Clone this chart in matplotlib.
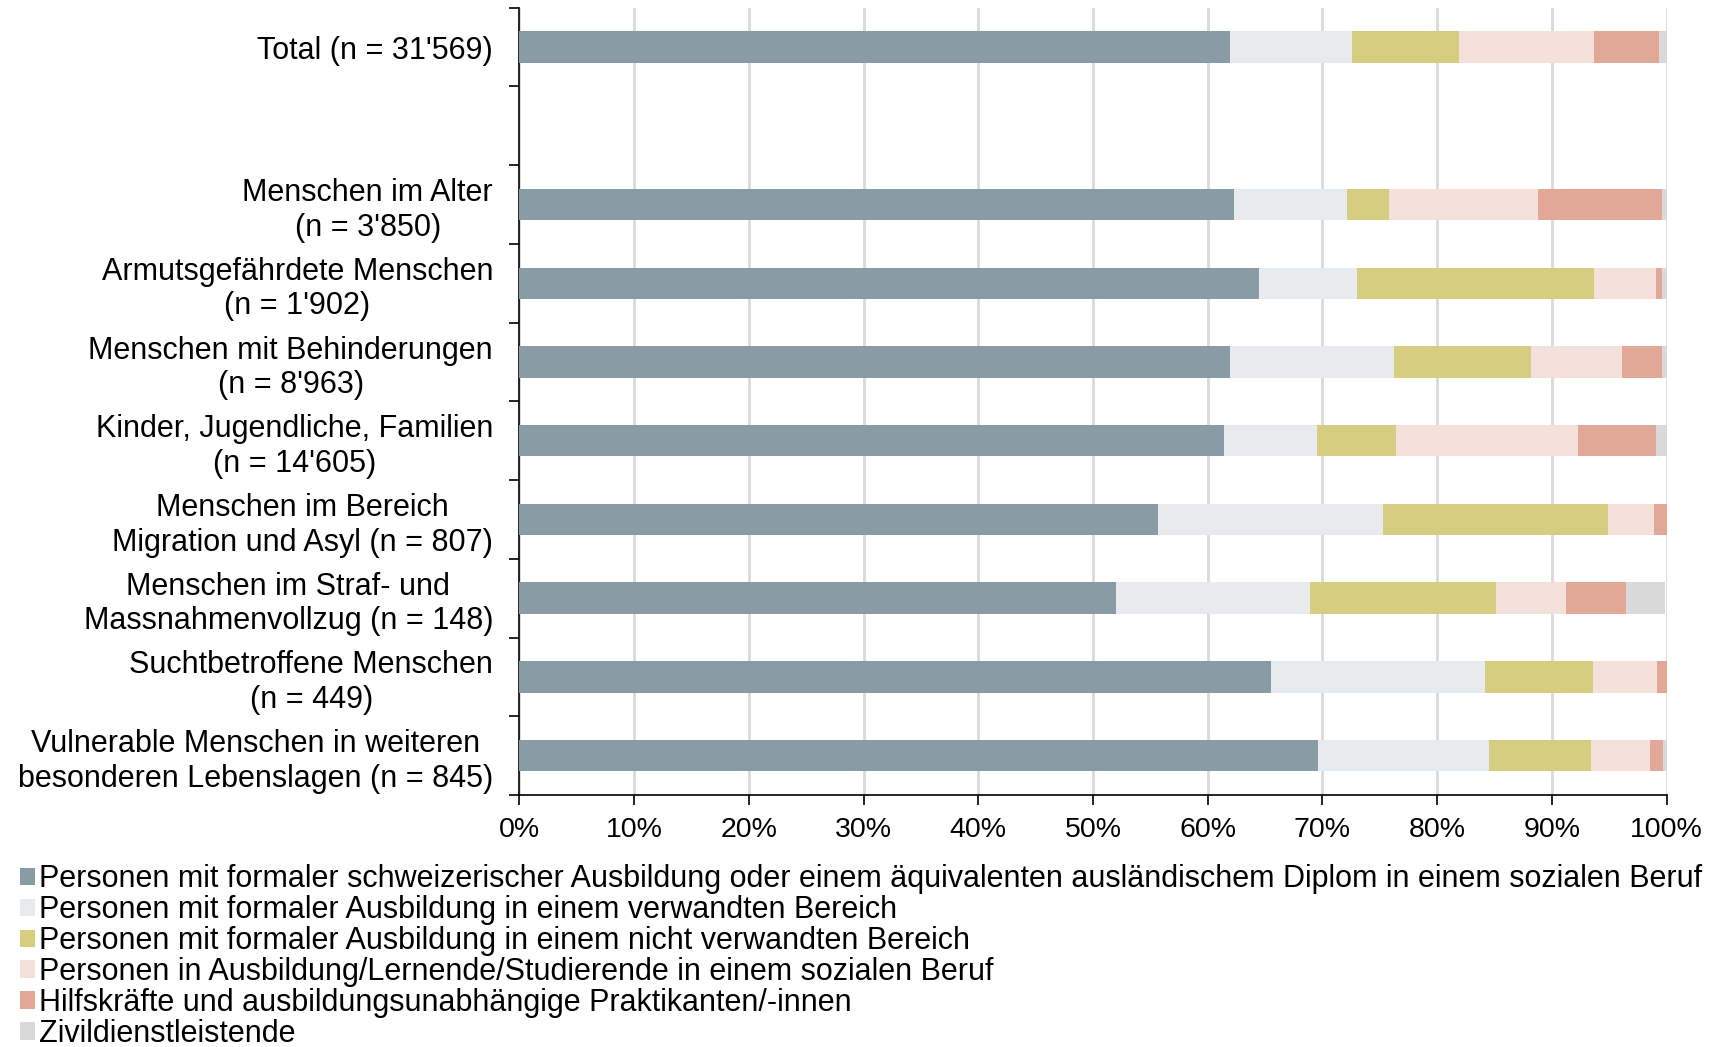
import numpy as np
import matplotlib.pyplot as plt
from matplotlib.patches import Patch

plt.rcParams['font.family'] = ['Liberation Sans', 'DejaVu Sans']

categories = [
    "Total (n = 31'569)",
    "Menschen im Alter\n(n = 3'850)",
    "Armutsgefährdete Menschen\n(n = 1'902)",
    "Menschen mit Behinderungen\n(n = 8'963)",
    "Kinder, Jugendliche, Familien\n(n = 14'605)",
    "Menschen im Bereich\nMigration und Asyl (n = 807)",
    "Menschen im Straf- und\nMassnahmenvollzug (n = 148)",
    "Suchtbetroffene Menschen\n(n = 449)",
    "Vulnerable Menschen in weiteren\nbesonderen Lebenslagen (n = 845)",
]

# Anteile in Prozent, je Kategorie
formal_sozial = [61.9, 62.3, 64.5, 61.9, 61.4, 55.7, 52.0, 65.5, 69.6]
verwandt = [10.7, 9.8, 8.5, 14.3, 8.1, 19.6, 16.9, 18.7, 14.9]
nicht_verwandt = [9.3, 3.7, 20.7, 12.0, 6.9, 19.6, 16.2, 9.4, 8.9]
in_ausbildung = [11.8, 13.0, 5.4, 7.9, 15.9, 4.0, 6.1, 5.6, 5.2]
hilfskraefte = [5.6, 10.8, 0.5, 3.5, 6.8, 1.2, 5.3, 0.8, 1.1]
zivildienst = [0.7, 0.4, 0.4, 0.4, 0.9, 0.0, 3.4, 0.0, 0.3]

series_labels = [
    "Personen mit formaler schweizerischer Ausbildung oder einem äquivalenten ausländischem Diplom in einem sozialen Beruf",
    "Personen mit formaler Ausbildung in einem verwandten Bereich",
    "Personen mit formaler Ausbildung in einem nicht verwandten Bereich",
    "Personen in Ausbildung/Lernende/Studierende in einem sozialen Beruf",
    "Hilfskräfte und ausbildungsunabhängige Praktikanten/-innen",
    "Zivildienstleistende",
]
colors = ['#899ca6', '#e7ebee', '#d6cd80', '#f5e1dc', '#e2a897', '#dadada']

series = [formal_sozial, verwandt, nicht_verwandt, in_ausbildung,
          hilfskraefte, zivildienst]

# Total oben, danach eine leere Zeile
ypos = np.array([0] + list(range(2, 10)))

fig = plt.figure(figsize=(17.27, 10.47), dpi=100)
ax = fig.add_axes([0.3008, 0.2407, 0.9650 - 0.3008, 0.9926 - 0.2407])

left = np.zeros(len(categories))
for vals, col in zip(series, colors):
    vals = np.array(vals)
    ax.barh(ypos, vals, left=left, height=0.4, color=col, zorder=3)
    left += vals

ax.set_xlim(0, 100)
ax.set_ylim(9.5, -0.5)
ax.set_xticks(np.arange(0, 101, 10))
ax.set_xticklabels([f'{v}%' for v in range(0, 101, 10)])
ax.grid(axis='x', color='#d9d9d9', linewidth=2, zorder=0)

ax.set_yticks(ypos)
ax.set_yticklabels(categories)
for lbl in ax.get_yticklabels():
    lbl.set_multialignment('center')
ax.set_yticks(np.arange(-0.5, 10, 1), minor=True)
ax.tick_params(axis='y', which='major', length=0, pad=19, labelsize=22)
ax.tick_params(axis='y', which='minor', length=7, width=1.2, direction='out')
ax.tick_params(axis='x', length=7, width=1.2, pad=9, labelsize=20.5)

for s in ['top', 'right']:
    ax.spines[s].set_visible(False)
for s in ['left', 'bottom']:
    ax.spines[s].set_linewidth(1.2)

handles = [Patch(facecolor=c, edgecolor='none') for c in colors]
fig.legend(handles, series_labels, loc='upper left',
           bbox_to_anchor=(0.0115, 0.1745), frameon=False, fontsize=22,
           handlelength=0.5, handleheight=0.5, handletextpad=0.12,
           labelspacing=0.03, borderaxespad=0, borderpad=0)

fig.savefig('out.png', dpi=100)
